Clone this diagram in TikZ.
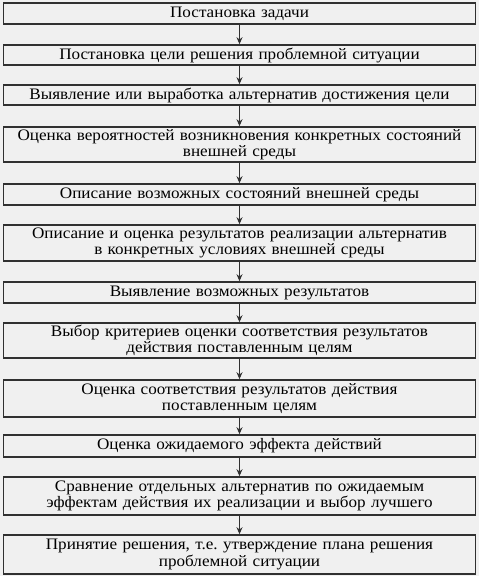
\documentclass[tikz,border=0pt]{standalone}
\usepackage{fontspec}
\setmainfont{Liberation Serif}[FakeStretch=1.07]
\usetikzlibrary{arrows.meta}
\definecolor{bg}{HTML}{F0F0F0}
\definecolor{edge}{HTML}{303030}
\frenchspacing
\begin{document}
\begin{tikzpicture}[x=1pt,y=-1pt,
  stepbox/.style={draw=edge,line width=1.6pt,fill=bg,minimum width=472pt,inner sep=0pt,
    text width=466pt,align=center,font=\fontsize{16}{16.5}\selectfont},
  conn/.style={draw=edge,line width=0.9pt,-{Stealth[length=7pt,width=6pt]}}]
\fill[bg] (0,0) rectangle (479,576);
\useasboundingbox (0,0) rectangle (479,576);
\newcommand\mkbox[4]{\node[stepbox,minimum height=#3-#2] (#1) at (239.5,{(#2+#3)/2}) {#4};}
\mkbox{b1}{3}{24}{Постановка задачи}
\mkbox{b2}{45}{65}{Постановка цели решения проблемной ситуации}
\mkbox{b3}{85}{105}{Выявление или выработка альтернатив достижения цели}
\mkbox{b4}{127}{162}{Оценка вероятностей возникновения конкретных состояний\\внешней среды}
\mkbox{b5}{184}{205}{Описание возможных состояний внешней среды}
\mkbox{b6}{225}{261}{Описание и оценка результатов реализации альтернатив\\в конкретных условиях внешней среды}
\mkbox{b7}{282}{303}{Выявление возможных результатов}
\mkbox{b8}{323}{358}{Выбор критериев оценки соответствия результатов\\действия поставленным целям}
\mkbox{b9}{380}{417}{Оценка соответствия результатов действия\\поставленным целям}
\mkbox{b10}{435}{457}{Оценка ожидаемого эффекта действий}
\mkbox{b11}{477}{515}{Сравнение отдельных альтернатив по ожидаемым\\эффектам действия их реализации и выбор лучшего}
\mkbox{b12}{535}{574}{Принятие решения, т.е. утверждение плана решения\\проблемной ситуации}
\foreach \a/\b in {b1/b2,b2/b3,b3/b4,b4/b5,b5/b6,b6/b7,b7/b8,b8/b9,b9/b10,b10/b11,b11/b12}
  \draw[conn] (\a.south) -- (\b.north);
\end{tikzpicture}
\end{document}
